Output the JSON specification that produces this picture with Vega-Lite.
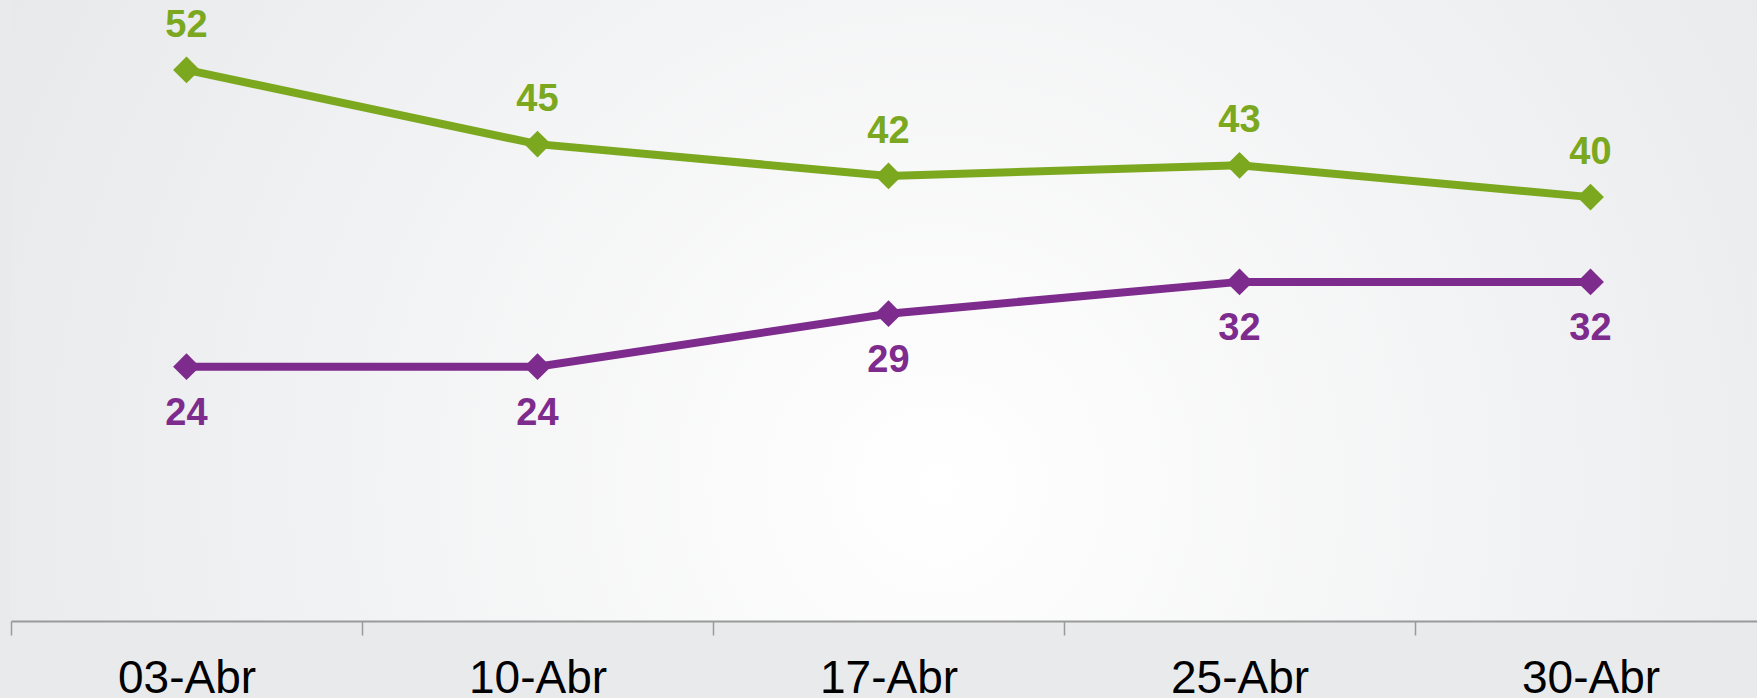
{
  "$schema": "https://vega.github.io/schema/vega-lite/v6.json",
  "width": 1746,
  "height": 621,
  "autosize": {"type": "none"},
  "padding": {"left": 11, "top": 0, "right": 0, "bottom": 77},
  "background": "#e9eaec",
  "config": {"view": {"stroke": null}},
  "data": {
    "values": [
      {"fecha": "03-Abr", "serie": "A", "valor": 52},
      {"fecha": "10-Abr", "serie": "A", "valor": 45},
      {"fecha": "17-Abr", "serie": "A", "valor": 42},
      {"fecha": "25-Abr", "serie": "A", "valor": 43},
      {"fecha": "30-Abr", "serie": "A", "valor": 40},
      {"fecha": "03-Abr", "serie": "B", "valor": 24},
      {"fecha": "10-Abr", "serie": "B", "valor": 24},
      {"fecha": "17-Abr", "serie": "B", "valor": 29},
      {"fecha": "25-Abr", "serie": "B", "valor": 32},
      {"fecha": "30-Abr", "serie": "B", "valor": 32}
    ]
  },
  "encoding": {
    "x": {
      "field": "fecha",
      "type": "nominal",
      "sort": ["03-Abr", "10-Abr", "17-Abr", "25-Abr", "30-Abr"],
      "scale": {"type": "band", "paddingInner": 0, "paddingOuter": 0, "range": [0, 1755]},
      "axis": {
        "title": null,
        "labelAngle": 0,
        "labelFont": "Liberation Sans",
        "labelFontSize": 46,
        "labelColor": "#000000",
        "labelBaseline": "alphabetic",
        "labelPadding": 57,
        "tickBand": "extent",
        "tickSize": 14,
        "tickColor": "#9a9a9a",
        "tickWidth": 1.5,
        "domainColor": "#9a9a9a",
        "domainWidth": 2,
        "grid": false,
        "zindex": 1
      }
    },
    "y": {
      "field": "valor",
      "type": "quantitative",
      "scale": {"domain": [0, 58.6], "nice": false, "zero": true},
      "axis": null
    },
    "color": {
      "field": "serie",
      "type": "nominal",
      "scale": {"domain": ["A", "B"], "range": ["#7ba81e", "#7d2b8c"]},
      "legend": null
    }
  },
  "layer": [
    {
      "data": {"values": [{}]},
      "mark": {
        "type": "rect",
        "color": {
          "gradient": "radial",
          "x1": 0.53, "y1": 0.6, "r1": 0,
          "x2": 0.53, "y2": 0.6, "r2": 0.6,
          "stops": [
            {"offset": 0, "color": "#ffffff"},
            {"offset": 1, "color": "#e8e9eb"}
          ]
        }
      },
      "encoding": {"x": null, "y": null, "color": null}
    },
    {
      "mark": {
        "type": "line",
        "strokeWidth": 8,
        "point": {"shape": "diamond", "size": 720, "filled": true, "opacity": 1}
      }
    },
    {
      "transform": [{"filter": "datum.serie === 'A'"}],
      "mark": {"type": "text", "font": "Liberation Sans", "fontSize": 38, "fontWeight": "bold", "baseline": "middle", "dy": -44},
      "encoding": {"text": {"field": "valor", "type": "quantitative"}}
    },
    {
      "transform": [{"filter": "datum.serie === 'B'"}],
      "mark": {"type": "text", "font": "Liberation Sans", "fontSize": 38, "fontWeight": "bold", "baseline": "middle", "dy": 47},
      "encoding": {"text": {"field": "valor", "type": "quantitative"}}
    }
  ]
}
